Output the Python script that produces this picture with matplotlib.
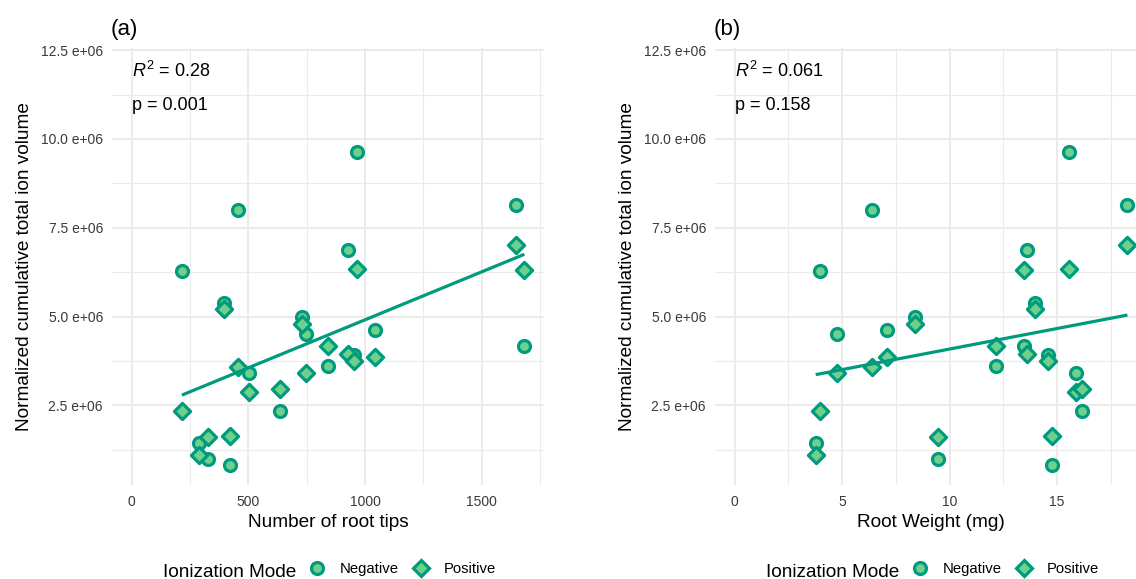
import matplotlib
matplotlib.use('Agg')
import matplotlib.pyplot as plt
import numpy as np
from matplotlib.ticker import FuncFormatter, MultipleLocator
from matplotlib.lines import Line2D

plt.rcParams['font.family'] = ['Liberation Sans', 'DejaVu Sans']
plt.rcParams['mathtext.fontset'] = 'custom'
plt.rcParams['mathtext.rm'] = 'Liberation Sans'
plt.rcParams['mathtext.it'] = 'Liberation Sans:italic'

# ---------------- data (17 samples) ----------------
root_tips = [964, 456, 1646, 215, 926, 396, 728, 746, 1044, 1682, 502, 839, 953, 635, 289, 328, 421]
root_weight = [15.57, 6.38, 18.27, 3.97, 13.58, 13.97, 8.38, 4.78, 7.09, 13.45, 15.88, 12.17, 14.59, 16.17, 3.77, 9.48, 14.77]
negative_vol = [9.63, 7.99, 8.14, 6.29, 6.88, 5.39, 4.98, 4.51, 4.63, 4.18, 3.40, 3.60, 3.92, 2.33, 1.44, 0.99, 0.83]
positive_vol = [6.34, 3.58, 7.02, 2.35, 3.96, 5.22, 4.80, 3.40, 3.87, 6.30, 2.87, 4.16, 3.76, 2.97, 1.11, 1.62, 1.64]
scale = 1e6

panel_tags = ['(a)', '(b)']
x_titles = ['Number of root tips', 'Root Weight (mg)']
r2_labels = ['0.28', '0.061']
p_labels = ['0.001', '0.158']
y_title = 'Normalized cumulative total ion volume'
legend_title = 'Ionization Mode'
mode_labels = ['Negative', 'Positive']

EDGE = '#009B7F'
FILL = '#6FD08C'
GRID = '#EBEBEB'
TICKC = '#3A3A3A'

W, H = 1136, 579
fig = plt.figure(figsize=(W / 100, H / 100), dpi=100)


def px_axes(l, t, r, b):
    return fig.add_axes([l / W, 1 - b / H, (r - l) / W, (b - t) / H])


panels = [
    dict(box=(112, 48, 544, 485), x=root_tips, xmaj=500, xmin=250, xlim=(-84.1, 1766.1)),
    dict(box=(715, 48, 1147, 485), x=root_weight, xmaj=5, xmin=2.5, xlim=(-0.9135, 19.18)),
]

neg = np.array(negative_vol) * scale
pos = np.array(positive_vol) * scale

for i, p in enumerate(panels):
    ax = px_axes(*p['box'])
    x = np.array(p['x'], dtype=float)
    ax.set_xlim(*p['xlim'])
    ax.set_ylim(0.26e6, 12.56e6)
    for s in ax.spines.values():
        s.set_visible(False)
    ax.xaxis.set_major_locator(MultipleLocator(p['xmaj']))
    ax.xaxis.set_minor_locator(MultipleLocator(p['xmin']))
    ax.yaxis.set_major_locator(MultipleLocator(2.5e6))
    ax.yaxis.set_minor_locator(MultipleLocator(1.25e6))
    ax.grid(True, which='major', color=GRID, lw=1.4, zorder=0)
    ax.grid(True, which='minor', color=GRID, lw=0.8, zorder=0)
    ax.set_axisbelow(True)
    ax.tick_params(which='both', length=0)
    ax.tick_params(axis='y', pad=6.5, labelsize=10, labelcolor=TICKC)
    ax.tick_params(axis='x', pad=7.5, labelsize=10, labelcolor=TICKC)
    ax.yaxis.set_major_formatter(FuncFormatter(lambda v, _: f'{v / 1e6:.1f} e+06'))
    ax.xaxis.set_major_formatter(FuncFormatter(lambda v, _: f'{v:g}'))

    # points
    ax.scatter(x, neg, s=74, marker='o', facecolor=FILL, edgecolor=EDGE, linewidths=2.3, zorder=3)
    ax.scatter(x, pos, s=68, marker='D', facecolor=FILL, edgecolor=EDGE, linewidths=2.3, zorder=3)

    # pooled linear fit
    xx = np.concatenate([x, x])
    yy = np.concatenate([neg, pos])
    k, b0 = np.polyfit(xx, yy, 1)
    xs = np.array([x.min(), x.max()])
    ax.plot(xs, k * xs + b0, color=EDGE, lw=2.3, zorder=4, solid_capstyle='butt')

    ax.set_xlabel(x_titles[i], fontsize=13.7, labelpad=3)
    ax.set_ylabel(y_title, fontsize=13.7, labelpad=6)

    tr = ax.get_xaxis_transform()
    ax.text(0, (485 - 77) / 437, r'$R^2$ = ' + r2_labels[i], transform=tr,
            fontsize=13, va='baseline', ha='left')
    ax.text(0, (485 - 110) / 437, 'p = ' + p_labels[i], transform=tr,
            fontsize=13, va='baseline', ha='left')

    l, t, r, bt = p['box']
    fig.text((l - 1) / W, 1 - 35 / H, panel_tags[i], fontsize=16, va='baseline', ha='left')

    # legend under each panel
    cx = (l + r) / 2
    fig.text((cx - 165) / W, 1 - 577 / H, legend_title, fontsize=13.7, va='baseline', ha='left')
    handles = [
        Line2D([], [], marker='o', ls='', ms=8.6, mfc=FILL, mec=EDGE, mew=2.3),
        Line2D([], [], marker='D', ls='', ms=8.2, mfc=FILL, mec=EDGE, mew=2.3),
    ]
    fig.legend(handles, mode_labels, loc='center left', bbox_to_anchor=((cx - 18) / W, 1 - 569 / H),
               bbox_transform=fig.transFigure, ncol=2, frameon=False, borderpad=0, borderaxespad=0,
               handlelength=1.0, handletextpad=1.0, columnspacing=1.0, fontsize=10.7)

fig.savefig('out.png', dpi=100)
